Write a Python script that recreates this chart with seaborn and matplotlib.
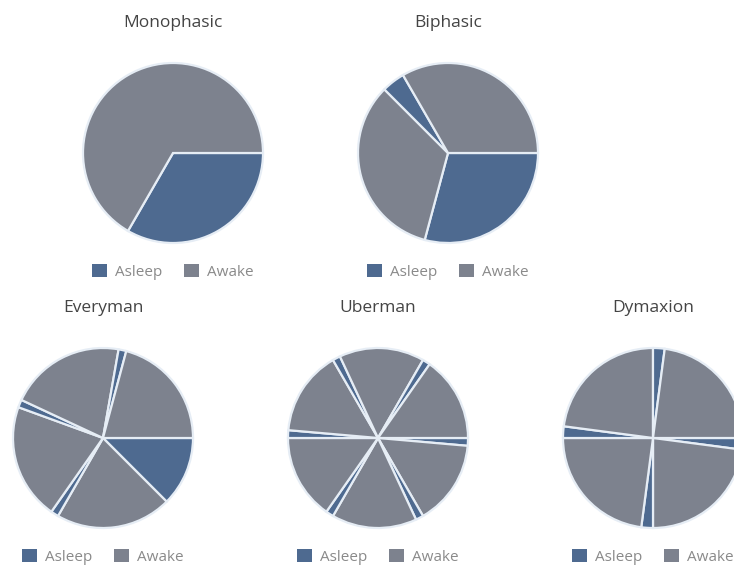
import matplotlib
matplotlib.use("Agg")
import matplotlib.pyplot as plt
import matplotlib.patches as mpatches
import seaborn as sns

sns.set_theme(style="white")
plt.rcParams['font.family'] = ['Open Sans', 'DejaVu Sans']

# Data: minutes per consecutive segment, starting at 3 o'clock, going clockwise
schedules = ["Monophasic", "Biphasic", "Everyman", "Uberman", "Dymaxion"]

monophasic_states = ["Asleep", "Awake"]
monophasic_minutes = [480, 960]

biphasic_states = ["Asleep", "Awake", "Asleep", "Awake"]
biphasic_minutes = [420, 480, 60, 480]

everyman_states = ["Asleep", "Awake", "Asleep", "Awake", "Asleep", "Awake", "Asleep", "Awake"]
everyman_minutes = [180, 300, 20, 300, 20, 300, 20, 300]

uberman_states = ["Asleep", "Awake"] * 6
uberman_minutes = [20, 220, 20, 220, 20, 220, 20, 220, 20, 220, 20, 220]

dymaxion_states = ["Asleep", "Awake"] * 4
dymaxion_minutes = [30, 330, 30, 330, 30, 330, 30, 330]

legend_labels = ["Asleep", "Awake"]
palette = dict(zip(legend_labels, sns.color_palette(["#4e6a90", "#7d828e"])))

data = {
    "Monophasic": (monophasic_states, monophasic_minutes),
    "Biphasic": (biphasic_states, biphasic_minutes),
    "Everyman": (everyman_states, everyman_minutes),
    "Uberman": (uberman_states, uberman_minutes),
    "Dymaxion": (dymaxion_states, dymaxion_minutes),
}

W, H = 734, 568
fig = plt.figure(figsize=(W / 100, H / 100), dpi=100)
fig.patch.set_facecolor("white")

R = 90
centers = {
    "Monophasic": (173, 153),
    "Biphasic": (448, 153),
    "Everyman": (103, 438),
    "Uberman": (378, 438),
    "Dymaxion": (653, 438),
}

for name in schedules:
    states, minutes = data[name]
    cx, cy = centers[name]
    ax = fig.add_axes([(cx - R) / W, (H - cy - R) / H, 2 * R / W, 2 * R / H])
    ax.pie(minutes, colors=[palette[s] for s in states], startangle=0,
           counterclock=False, radius=1,
           wedgeprops=dict(edgecolor="#e6edf5", linewidth=1.6))
    ax.set_xlim(-1.0, 1.0)
    ax.set_ylim(-1.0, 1.0)
    ax.set_aspect("equal")
    ax.axis("off")
    ax.text(0.5, 1 + 40 / (2 * R), name, transform=ax.transAxes,
            ha="center", va="center", fontsize=12.5, color="#444444")
    handles = [mpatches.Patch(facecolor=palette[l], edgecolor="none", label=l)
               for l in legend_labels]
    leg = ax.legend(handles=handles, loc="center",
                    bbox_to_anchor=(0.5, -29 / (2 * R)), ncol=2, frameon=False,
                    fontsize=11, handlelength=0.95, handleheight=0.95,
                    handletextpad=0.55, columnspacing=1.4)
    for t in leg.get_texts():
        t.set_color("#8a8a8a")

fig.savefig("out.png", dpi=100)
